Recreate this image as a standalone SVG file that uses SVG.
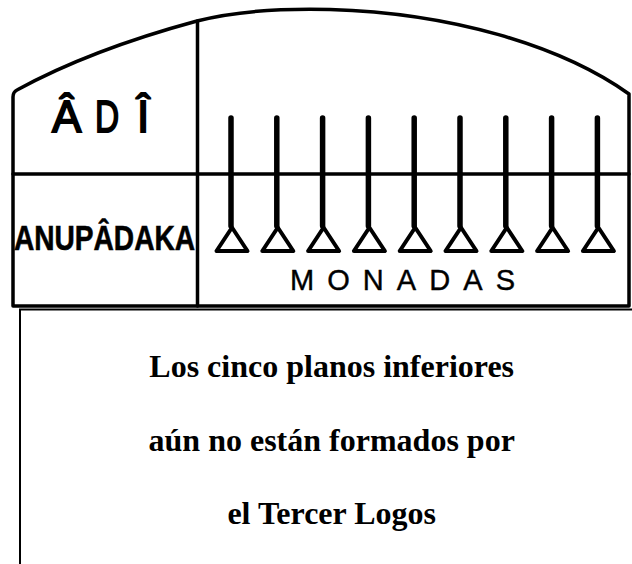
<svg xmlns="http://www.w3.org/2000/svg" width="632" height="564" viewBox="0 0 632 564">
<defs>
<style>
.ln{fill:none;stroke:#000;stroke-width:3.5;stroke-linecap:round;stroke-linejoin:round}
.stem{fill:none;stroke:#000;stroke-width:5.5;stroke-linecap:round}
.tri{fill:#fff;stroke:#000;stroke-width:4;stroke-linejoin:round}
.hand{font-family:"Liberation Sans","DejaVu Sans",sans-serif;fill:#000}
.body{font-family:"Liberation Serif","Times New Roman",serif;font-weight:bold;font-size:32px;fill:#000;text-anchor:middle}
</style>
<g id="monad">
<line class="stem" x1="0" y1="118" x2="0" y2="226"/>
<path class="tri" d="M1,227.5 L16.5,251 L-14.5,251 Z"/>
</g>
</defs>
<rect width="632" height="564" fill="#fff"/>
<g id="frame">
<path class="ln" d="M13,306 V97 Q13,92 17,90 Q90,50 197,21 C240,10 290,8.5 330,9.5 C450,13 560,45 629,94 V306 Z"/>
<line class="ln" x1="197.5" y1="21" x2="197.5" y2="306"/>
<line class="ln" x1="13" y1="174" x2="629" y2="174"/>
</g>
<g id="adi">
<text class="hand" font-size="44" stroke="#000" stroke-width="1.8"><tspan x="52" y="132">Â</tspan></text>
<text class="hand" font-size="44" stroke="#000" stroke-width="1.8" transform="translate(95,132) scale(0.76,1)">D</text>
<text class="hand" font-size="44" stroke="#000" stroke-width="1.8"><tspan x="137" y="132">Î</tspan></text>
</g>
<g id="anupadaka">
<text class="hand" x="14" y="250" font-size="35" font-weight="bold" stroke="#000" stroke-width="0.6" textLength="181" lengthAdjust="spacingAndGlyphs">ANUPÂDAKA</text>
</g>
<g id="monadas">
<use href="#monad" x="231"/>
<use href="#monad" x="276.8"/>
<use href="#monad" x="322.6"/>
<use href="#monad" x="368.4"/>
<use href="#monad" x="414.2"/>
<use href="#monad" x="460"/>
<use href="#monad" x="505.8"/>
<use href="#monad" x="551.6"/>
<use href="#monad" x="597.4"/>
<text class="hand" x="290" y="290" font-size="29" stroke="#000" stroke-width="0.4" textLength="225" lengthAdjust="spacing">MONADAS</text>
</g>
<g id="textbox">
<path d="M20,564 V309.5 H632" fill="none" stroke="#000" stroke-width="2"/>
<text class="body" x="331.7" y="377">Los cinco planos inferiores</text>
<text class="body" x="331.7" y="450.5">aún no están formados por</text>
<text class="body" x="331.7" y="524">el Tercer Logos</text>
</g>
<g id="connectors"/>
</svg>
